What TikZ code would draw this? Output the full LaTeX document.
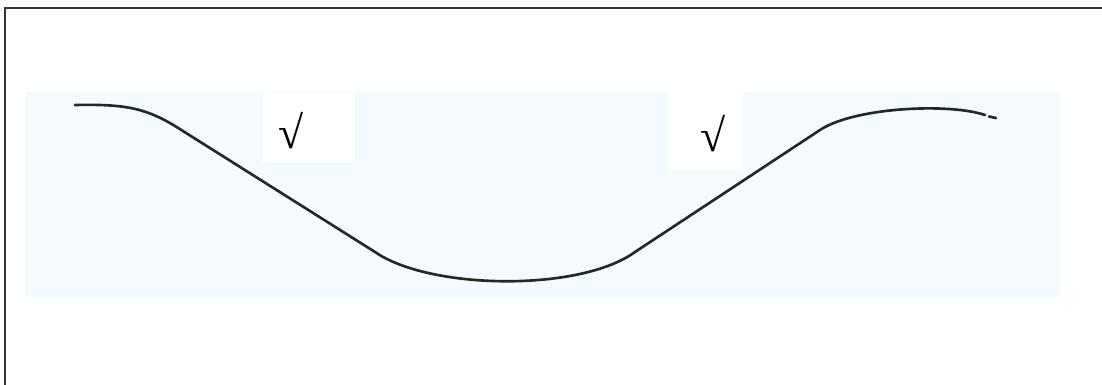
\documentclass[tikz,border=0pt]{standalone}
\usepackage{fontspec}
\setmainfont{Liberation Serif}
\definecolor{scanblue}{RGB}{244,250,253}
\begin{document}
\begin{tikzpicture}[x=0.01cm,y=-0.01cm,
  curve/.style={line width=0.75pt,line cap=round,black!85},
  tick/.style={inner sep=0pt,font=\fontsize{13}{13}\selectfont}]
\useasboundingbox (0,0) rectangle (1102,385);
\clip (0,0) rectangle (1102,385);
% frame
\draw[line width=0.6pt,black!80] (5,8) rectangle (1120,400);
% scanned sheet background
\fill[scanblue] (25,92) rectangle (1060,297);
\fill[white] (263,93) rectangle (355,163);
\fill[white] (668,92) rectangle (743,170);
% curve
\draw[curve] (75,105) .. controls (125,104) and (145,108) .. (175,126)
  -- (375,252) .. controls (430,290) and (580,292) .. (635,252)
  -- (820,130) .. controls (855,107) and (950,103) .. (985,115);
\draw[curve] (989,116.5) -- (996,118);
% ticks
\node[tick] (t1) at (291,131) {√};
\node[tick] (t2) at (713,134) {√};
\end{tikzpicture}
\end{document}
